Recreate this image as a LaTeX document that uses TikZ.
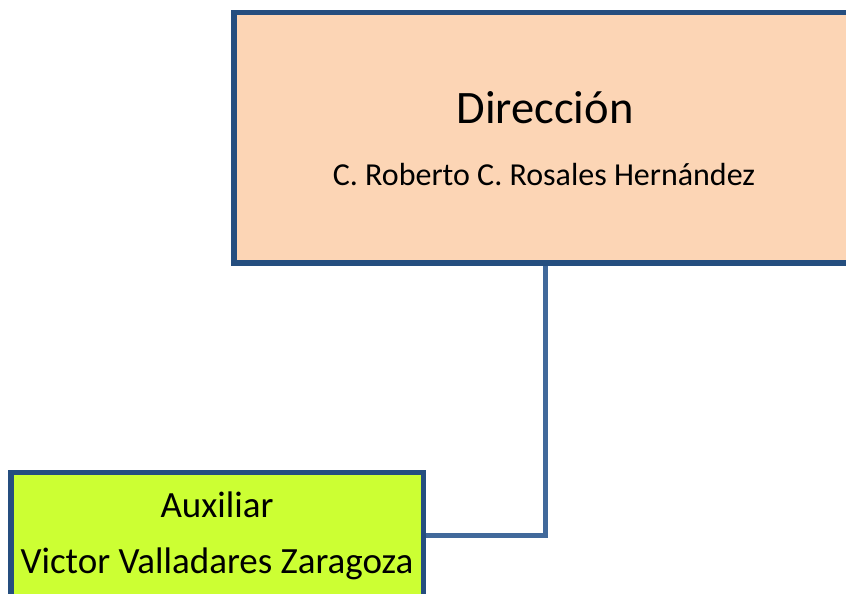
\documentclass[tikz,border=0pt]{standalone}
\usepackage{fontspec}
\setmainfont{Carlito}
\usetikzlibrary{positioning}
\definecolor{boxline}{HTML}{254E7F}
\definecolor{linkline}{HTML}{41699B}
\definecolor{peach}{HTML}{FCD5B5}
\definecolor{lime}{HTML}{CCFF33}

\begin{document}
\begin{tikzpicture}[
    x=1pt, y=-1pt,
    box/.style={rectangle, draw=boxline, line width=5.2pt, inner sep=0pt},
    boxtext/.style={anchor=base, inner sep=0pt},
    link/.style={draw=linkline, line width=5pt}
]
    \clip (0,0) rectangle (846,594);
    \node[box, fill=peach, minimum width=622pt, minimum height=250.5pt] (direccion) at (545,137.75) {};
    \node[box, fill=lime, minimum width=412.5pt, minimum height=125pt] (auxiliar) at (217.25,535) {};

    \node[boxtext, font=\fontsize{46.5}{52}\selectfont] (dirtitle) at (545,123) {Dirección};
    \node[boxtext, font=\fontsize{32}{38}\selectfont] (dirname) at (544,185) {C. Roberto C. Rosales Hernández};
    \node[boxtext, font=\fontsize{37}{44}\selectfont] (auxtitle) at (217,517) {Auxiliar};
    \node[boxtext, font=\fontsize{37}{44}\selectfont] (auxname) at (217,573) {Victor Valladares Zaragoza};

    \draw[link] (direccion.south) |- (auxiliar.east);
\end{tikzpicture}
\end{document}
